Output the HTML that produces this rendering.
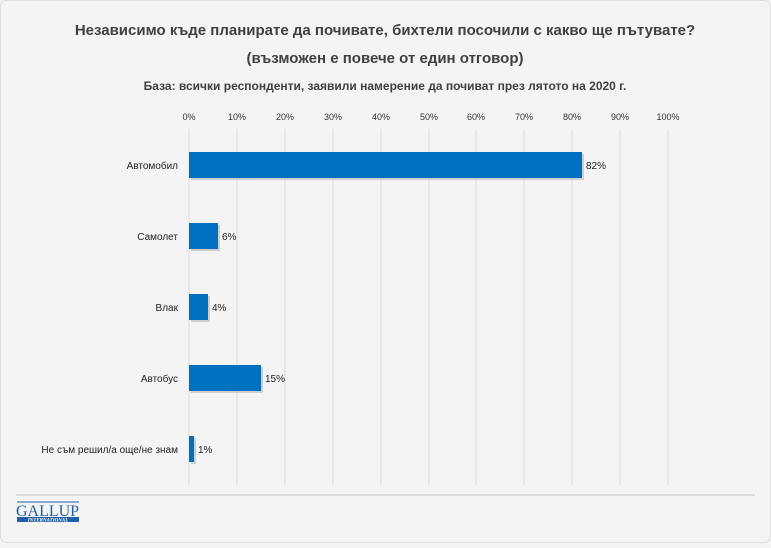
<!DOCTYPE html>
<html><head><meta charset="utf-8"><style>
body{margin:0;width:771px;height:543px;background:#f4f4f4;font-family:"Liberation Sans",sans-serif;overflow:hidden}
</style></head><body>
<svg width="771" height="543" xmlns="http://www.w3.org/2000/svg" font-family="Liberation Sans, sans-serif">
<rect x="0.5" y="0.5" width="770" height="542" rx="6" fill="#f4f4f4" stroke="#ddd"/>
<text x="385" y="35" text-anchor="middle" font-size="15" font-weight="bold" fill="#404040">Независимо къде планирате да почивате, бихтели посочили с какво ще пътувате?</text>
<text x="385" y="63" text-anchor="middle" font-size="15" font-weight="bold" fill="#404040">(възможен е повече от един отговор)</text>
<text x="385" y="90" text-anchor="middle" font-size="12" font-weight="bold" fill="#404040">База: всички респонденти, заявили намерение да почиват през лятото на 2020 г.</text>
<g font-size="9" fill="#333" text-anchor="middle">
<text x="189" y="120">0%</text><text x="237" y="120">10%</text><text x="285" y="120">20%</text><text x="333" y="120">30%</text><text x="381" y="120">40%</text><text x="429" y="120">50%</text><text x="476" y="120">60%</text><text x="524" y="120">70%</text><text x="572" y="120">80%</text><text x="620" y="120">90%</text><text x="668" y="120">100%</text>
</g>
<g stroke="#ddd" stroke-width="1">
<line x1="189" y1="129" x2="189" y2="485"/><line x1="237" y1="129" x2="237" y2="485"/><line x1="285" y1="129" x2="285" y2="485"/><line x1="333" y1="129" x2="333" y2="485"/><line x1="381" y1="129" x2="381" y2="485"/><line x1="429" y1="129" x2="429" y2="485"/><line x1="476" y1="129" x2="476" y2="485"/><line x1="524" y1="129" x2="524" y2="485"/><line x1="572" y1="129" x2="572" y2="485"/><line x1="620" y1="129" x2="620" y2="485"/><line x1="668" y1="129" x2="668" y2="485"/>
</g>
<g fill="#aaa" opacity="0.5">
<rect x="191" y="154" width="393" height="26"/><rect x="191" y="225" width="29" height="26"/><rect x="191" y="296" width="19" height="26"/><rect x="191" y="367" width="72" height="26"/><rect x="191" y="438" width="5" height="26"/>
</g>
<g fill="#0070c0">
<rect x="189" y="152" width="393" height="26"/><rect x="189" y="223" width="29" height="26"/><rect x="189" y="294" width="19" height="26"/><rect x="189" y="365" width="72" height="26"/><rect x="189" y="436" width="5" height="26"/>
</g>
<g font-size="10" fill="#222">
<text x="586" y="169">82%</text><text x="222" y="240">6%</text><text x="212" y="311">4%</text><text x="265" y="382">15%</text><text x="198" y="453">1%</text>
</g>
<g font-size="10" fill="#222" text-anchor="end">
<text x="178" y="169">Автомобил</text><text x="178" y="240">Самолет</text><text x="178" y="311">Влак</text><text x="178" y="382">Автобус</text><text x="178" y="453">Не съм решил/а още/не знам</text>
</g>
<line x1="16" y1="495" x2="755" y2="495" stroke="#ddd" stroke-width="2"/>
<line x1="17" y1="502" x2="79" y2="502" stroke="#1f5fa8" stroke-width="1"/>
<text x="16" y="516" font-family="Liberation Serif, serif" font-size="16" fill="#1f5fa8" textLength="63" lengthAdjust="spacingAndGlyphs">GALLUP</text>
<rect x="17" y="517" width="62" height="5" fill="#1f5fa8"/>
<text x="48" y="521.5" text-anchor="middle" font-family="Liberation Serif, serif" font-size="5" font-style="italic" font-weight="bold" fill="#fff">INTERNATIONAL</text>
</svg>
</body></html>
